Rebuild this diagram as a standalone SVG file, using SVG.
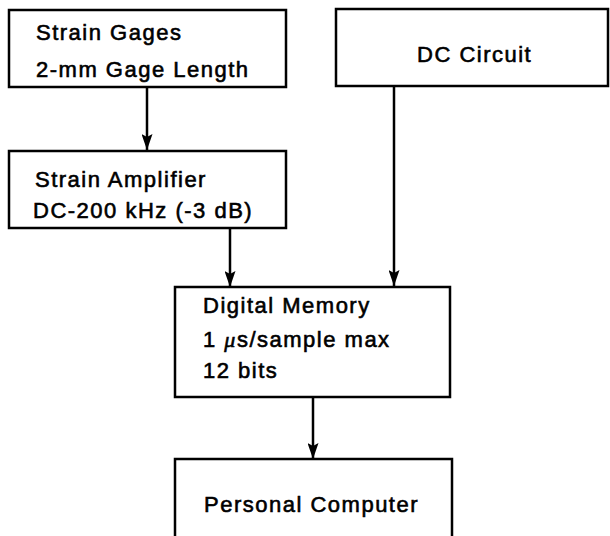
<svg xmlns="http://www.w3.org/2000/svg" width="610" height="536" viewBox="0 0 610 536">
<defs>
<marker id="arr" markerUnits="userSpaceOnUse" markerWidth="16" markerHeight="11" refX="16" refY="5.5" orient="auto" viewBox="0 0 16 11">
<path d="M0,0 L16,5.5 L0,11 L3,5.5 Z" fill="#000"/>
</marker>
</defs>
<style>
.box{fill:#fff;stroke:#000;stroke-width:2.5}
.t{font-family:"Liberation Sans",Arial,sans-serif;font-size:22px;letter-spacing:1.5px;fill:#000;stroke:#000;stroke-width:0.6}
.c{fill:none;stroke:#000;stroke-width:2.5}
</style>
<rect width="610" height="536" fill="#fff"/>
<g id="connectors">
<line class="c" x1="147" y1="87" x2="147" y2="150" marker-end="url(#arr)"/>
<line class="c" x1="230" y1="228" x2="230" y2="287" marker-end="url(#arr)"/>
<line class="c" x1="394" y1="86" x2="394" y2="286" marker-end="url(#arr)"/>
<line class="c" x1="313" y1="397" x2="313" y2="459" marker-end="url(#arr)"/>
</g>
<g id="strain-gages">
<rect class="box" x="9" y="10" width="277" height="77"/>
<text class="t" x="36" y="40">Strain Gages</text>
<text class="t" x="36" y="77">2-mm Gage Length</text>
</g>
<g id="strain-amplifier">
<rect class="box" x="9" y="151" width="277" height="77"/>
<text class="t" x="35" y="187">Strain Amplifier</text>
<text class="t" x="33" y="218">DC-200 kHz (-3 dB)</text>
</g>
<g id="dc-circuit">
<rect class="box" x="336" y="9" width="272" height="77"/>
<text class="t" x="417" y="62">DC Circuit</text>
</g>
<g id="digital-memory">
<rect class="box" x="175" y="287" width="275" height="110"/>
<text class="t" x="203" y="313">Digital Memory</text>
<text class="t" x="203" y="347">1 <tspan font-style="italic" font-family="Liberation Serif, serif">μ</tspan>s/sample max</text>
<text class="t" x="203" y="378">12 bits</text>
</g>
<g id="personal-computer">
<rect class="box" x="175" y="459" width="277" height="80"/>
<text class="t" x="204" y="512">Personal Computer</text>
</g>
</svg>
